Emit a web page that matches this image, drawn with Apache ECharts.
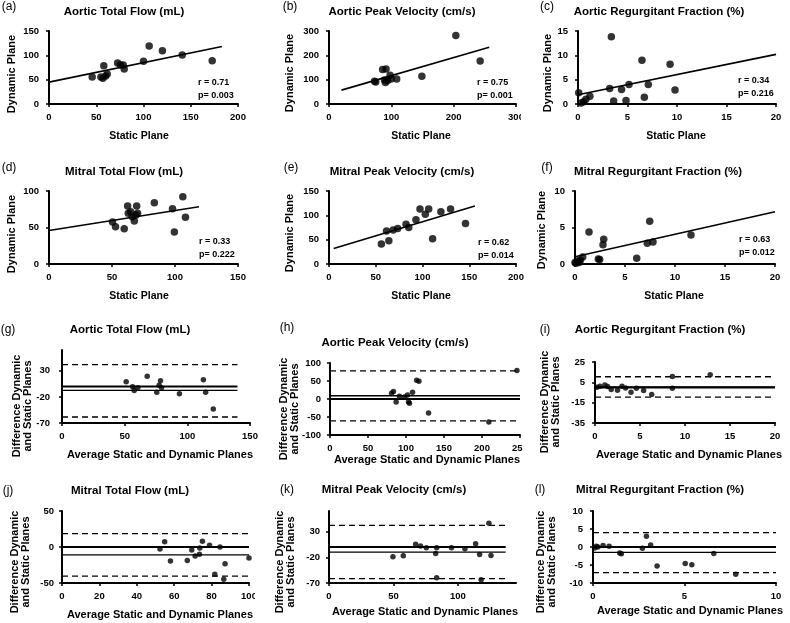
<!DOCTYPE html>
<html><head><meta charset="utf-8">
<script src="https://cdn.jsdelivr.net/npm/echarts@6/dist/echarts.min.js"></script>
<style>html,body{margin:0;padding:0;background:#fff}#c{width:790px;height:623px}</style>
</head><body><div id="c"></div>
<script>
// ---------- (a)-(f) Static vs Dynamic scatter data ----------
const aorticFlowStatic  = [45.7, 54.9, 58, 60, 61.6, 57, 72.6, 75.7, 78.6, 79.6, 100, 106, 120, 141, 172.7];
const aorticFlowDynamic = [55.5, 55.5, 78.8, 57.5, 61.6, 53, 84, 80, 80, 72, 87.7, 119, 109.6, 100.7, 89];
const aorticFlowTrend   = [[0, 45], [183, 118]];

const aorticVelStatic  = [73, 75, 86, 91.5, 89, 90.5, 94, 98, 99.6, 108.6, 149, 203.5, 242.5];
const aorticVelDynamic = [93, 90, 142, 144, 99, 88, 97, 118, 103, 103, 114, 282, 177];
const aorticVelTrend   = [[20, 57], [257, 233]];

const aorticRFStatic  = [0.07, 0.57, 0.8, 0.3, 1.2, 3.2, 3.37, 3.6, 4.4, 4.85, 5.15, 6.46, 6.7, 7.1, 9.3, 9.8];
const aorticRFDynamic = [2.3, 0.48, 0.96, 0.2, 1.6, 3.2, 13.8, 0.6, 3.0, 0.7, 4.0, 9.0, 1.4, 4.0, 8.15, 2.9];
const aorticRFTrend   = [[0, 1.9], [20, 10.2]];

const mitralFlowStatic  = [50.4, 52.8, 59.7, 62.4, 62.9, 64.8, 66.1, 67.7, 69, 69.6, 70.3, 83.6, 98, 99.5, 106.2, 108.3];
const mitralFlowDynamic = [57.5, 51.1, 48.4, 79.5, 69.4, 71.7, 64.8, 58.9, 67.1, 79.5, 69.4, 84, 75.8, 43.8, 92.2, 63.9];
const mitralFlowTrend   = [[0, 46], [119, 78.5]];

const mitralVelStatic  = [56, 61.5, 64, 68.6, 73.5, 82.4, 85.3, 93, 97.3, 103, 106.6, 110.8, 119.7, 130, 146];
const mitralVelDynamic = [41, 67.8, 48, 70, 73, 81.5, 75, 91, 113, 102, 113, 52, 107.5, 113, 83];
const mitralVelTrend   = [[5, 32], [156, 119]];

const mitralRFStatic  = [0, 0.1, 0.27, 0.4, 0.53, 0.77, 1.4, 2.33, 2.47, 2.87, 2.8, 6.17, 7.23, 7.47, 7.8, 11.6];
const mitralRFDynamic = [0.2, 0.1, 0.4, 0.2, 0.5, 0.96, 4.4, 0.7, 0.6, 3.4, 2.65, 0.8, 2.83, 5.85, 3.0, 3.97];
const mitralRFTrend   = [[0, 1.0], [20, 7.17]];

const corrR = ['r = 0.71', 'r = 0.75', 'r = 0.34', 'r = 0.33', 'r = 0.62', 'r = 0.63'];
const corrP = ['p= 0.003', 'p= 0.001', 'p= 0.216', 'p= 0.222', 'p= 0.014', 'p= 0.012'];

// ---------- (g)-(l) Bland-Altman data ----------
const baAorticFlowAvg  = [51.2, 56.3, 57.6, 60.5, 68, 75.6, 77.5, 78.6, 79.4, 93.7, 112.8, 114.6, 120.7];
const baAorticFlowDiff = [9, -0.3, -7.5, -2.2, 19.5, -10.8, 2.4, 11, -2.2, -14, 13, -10.8, -43];
const baAorticFlowStats = [-7.5, 42, -58.5, 140];   // mean, upper, lower, line end

const baAorticVelAvg  = [81, 83.5, 87, 91.4, 98, 102, 103.3, 104.6, 108.6, 114, 117, 129.7, 209, 246];
const baAorticVelDiff = [16, 21, -8, 7.4, 5.6, 11, -8.4, -12, 18.6, 52, 49, -39, -64, 79];
const baAorticVelStats = [9, 78, -61, 250];

const baAorticRFAvg  = [0.2, 0.55, 1.1, 1.4, 1.8, 2.5, 3, 3.4, 4, 4.6, 5.4, 6.3, 8.6, 8.6, 12.8];
const baAorticRFDiff = [0.2, 1.1, 2.4, 0.8, -2.1, -2.7, 1.1, -0.5, -4.7, -0.8, -3, -6.9, 10.8, -0.8, 12.4];
const baAorticRFStats = [0.5, 10.5, -9.5, 20];

const baMitralFlowAvg  = [52.4, 54.9, 58, 67, 69.4, 71.2, 73.5, 73.7, 75.1, 78.9, 81.7, 84.5, 86.5, 87.2, 100];
const baMitralFlowDiff = [-2.8, 7.4, -19.5, -18.6, -4.2, -12.6, -10.2, -1.4, 7.9, 2.3, -38, 0, -44.7, -23.3, -15.3];
const baMitralFlowStats = [-11, 18.5, -40.5, 100];

const baMitralVelAvg  = [49.6, 57.6, 67.2, 71, 75.5, 82.7, 83.5, 83.5, 95, 105.4, 113.7, 116.8, 118, 124, 125.6];
const baMitralVelDiff = [-19, -17, 5.2, 1.9, -1.4, -12.5, -1.4, -60, -1.4, -3.3, 6.5, -14.4, -63.5, 46.3, -16.4];
const baMitralVelStats = [-10, 42, -61.5, 137];

const baMitralRFAvg  = [0.09, 0.18, 0.27, 0.55, 0.88, 1.46, 1.55, 2.7, 2.92, 3.15, 3.5, 5.04, 5.4, 6.6, 7.8];
const baMitralRFDiff = [-0.3, 0.2, 0, 0.4, 0.2, -1.65, -1.9, -0.37, 3.0, 0.55, -5.3, -4.6, -4.9, -1.8, -7.6];
const baMitralRFStats = [-1.5, 4, -7.1, 10];

// ---------- text ----------
const panelLetters = ['(a)', '(b)', '(c)', '(d)', '(e)', '(f)', '(g)', '(h)', '(i)', '(j)', '(k)', '(l)'];
const panelTitles = ['Aortic Total Flow (mL)', 'Aortic Peak Velocity (cm/s)', 'Aortic Regurgitant Fraction (%)',
  'Mitral Total Flow (mL)', 'Mitral Peak Velocity (cm/s)', 'Mitral Regurgitant Fraction (%)',
  'Aortic Total Flow (mL)', 'Aortic Peak Velocity (cm/s)', 'Aortic Regurgitant Fraction (%)',
  'Mitral Total Flow (mL)', 'Mitral Peak Velocity (cm/s)', 'Mitral Regurgitant Fraction (%)'];
const xNameTop = 'Static Plane', yNameTop = 'Dynamic Plane';
const xNameBA = 'Average Static and Dynamic Planes', yNameBA = 'Difference Dynamic\nand Static Planes';

// axis ranges [xmin,xmax,xint, ymin,ymax,yint]
const axisRanges = [
  [0, 200, 50, 0, 150, 50], [0, 300, 100, 0, 300, 100], [0, 20, 5, 0, 15, 5],
  [0, 150, 50, 0, 100, 50], [0, 200, 50, 0, 150, 50], [0, 20, 5, 0, 10, 5],
  [0, 150, 50, -70, 70, 50], [0, 250, 50, -100, 100, 50], [0, 20, 5, -35, 25, 20],
  [0, 100, 20, -50, 50, 50], [0, 145, 50, -70, 70, 50], [0, 10, 5, -10, 10, 5]
];

// ---------- layout ----------
const grids = [
  [49, 31, 189, 73], [329, 31, 187, 73], [578, 31, 198, 73],
  [49, 191, 189, 73], [329, 191, 187, 73], [575, 191, 200, 73],
  [62, 350, 188, 73], [330, 363, 190, 72], [595, 362, 180, 61],
  [62, 511, 187, 72], [329, 511, 187, 72], [593, 511, 183, 72]
];
const letterPos = [[9, 7], [290, 7], [547, 7], [9, 168], [291, 168], [547, 168],
  [8, 330], [287, 328], [545, 330], [8, 491], [287, 490], [540, 490]];
const titlePos = [[124, 12], [402, 12], [659, 12], [124, 172], [402, 172], [658, 172],
  [130, 330], [395, 343], [660, 330], [130, 491], [394, 490], [660, 490]];
const xNamePos = [[139, 136], [421, 136], [676, 136], [139, 296], [421, 296], [674, 296],
  [160, 455], [427, 460], [689, 455], [160, 615], [425, 612], [690, 611]];
const yNamePos = [[12, 74], [290, 73], [548, 73], [12, 234], [290, 233], [542, 230],
  [22, 406], [289, 409], [550, 402], [20, 562], [285, 562], [546, 562]];
const corrPos = [[198, 83], [477, 83], [738, 81], [199, 242], [478, 243], [739, 240]];
const yLabelMargins = [10, 10, 10, 10, 10, 10, 12, 9, 10, 8, 9, 10];

const FONT = '"Liberation Sans", Arial, sans-serif';

const scatterSets = [
  [aorticFlowStatic, aorticFlowDynamic, aorticFlowTrend],
  [aorticVelStatic, aorticVelDynamic, aorticVelTrend],
  [aorticRFStatic, aorticRFDynamic, aorticRFTrend],
  [mitralFlowStatic, mitralFlowDynamic, mitralFlowTrend],
  [mitralVelStatic, mitralVelDynamic, mitralVelTrend],
  [mitralRFStatic, mitralRFDynamic, mitralRFTrend]
];
const baSets = [
  [baAorticFlowAvg, baAorticFlowDiff, baAorticFlowStats],
  [baAorticVelAvg, baAorticVelDiff, baAorticVelStats],
  [baAorticRFAvg, baAorticRFDiff, baAorticRFStats],
  [baMitralFlowAvg, baMitralFlowDiff, baMitralFlowStats],
  [baMitralVelAvg, baMitralVelDiff, baMitralVelStats],
  [baMitralRFAvg, baMitralRFDiff, baMitralRFStats]
];

function mkAxis(i, min, max, interval, isX) {
  const hideMax = (!isX && (i === 6 || i === 10)) || (isX && i === 10);
  return {
    gridIndex: i, type: 'value', min: min, max: max, interval: interval,
    splitLine: { show: false },
    axisLine: { show: true, onZero: false, lineStyle: { color: '#000', width: 2 } },
    axisTick: { show: true, length: 3, lineStyle: { color: '#000', width: 1.5 } },
    axisLabel: { color: '#000', fontSize: 9.5, fontWeight: 'bold', fontFamily: FONT,
      margin: isX ? 8 : yLabelMargins[i], showMaxLabel: hideMax ? false : true }
  };
}

const gridOpt = [], xAxes = [], yAxes = [], series = [], graphics = [];
grids.forEach((g, i) => {
  gridOpt.push({ left: g[0], top: g[1], width: g[2], height: g[3], containLabel: false, outerBoundsMode: 'none' });
  const r = axisRanges[i];
  xAxes.push(mkAxis(i, r[0], r[1], r[2], true));
  yAxes.push(mkAxis(i, r[3], r[4], r[5], false));
});

scatterSets.forEach((s, i) => {
  series.push({ type: 'scatter', xAxisIndex: i, yAxisIndex: i, symbolSize: 7.5,
    itemStyle: { color: '#000' }, data: s[0].map((x, k) => [x, s[1][k]]), z: 3 });
  series.push({ type: 'line', xAxisIndex: i, yAxisIndex: i, symbol: 'none', silent: true,
    lineStyle: { color: '#000', width: 1.6 }, data: s[2], z: 2 });
});
baSets.forEach((s, j) => {
  const i = j + 6;
  const st = s[2];
  series.push({ type: 'scatter', xAxisIndex: i, yAxisIndex: i, symbolSize: 5.5,
    itemStyle: { color: '#000' }, data: s[0].map((x, k) => [x, s[1][k]]), z: 3 });
  const hl = (y, w, dashed) => series.push({ type: 'line', xAxisIndex: i, yAxisIndex: i, symbol: 'none', silent: true,
    lineStyle: { color: '#000', width: w, type: dashed ? [6, 4] : 'solid' }, data: [[0, y], [st[3], y]], z: 2 });
  hl(0, 2, false);
  hl(st[0], 1.3, false);
  hl(st[1], 1.3, true);
  hl(st[2], 1.3, true);
});

function txt(x, y, text, font, align, rot, extra) {
  return Object.assign({ type: 'text', x: x, y: y, rotation: rot || 0, z: 50,
    style: { text: text, font: font, fill: '#000', align: align || 'center', verticalAlign: 'middle',
      textAlign: align || 'center', textVerticalAlign: 'middle', lineHeight: 11 } }, extra || {});
}
panelLetters.forEach((t, i) => graphics.push(txt(letterPos[i][0], letterPos[i][1], t, '12px ' + FONT)));
panelTitles.forEach((t, i) => graphics.push(txt(titlePos[i][0], titlePos[i][1], t, 'bold 11.5px ' + FONT)));
xNamePos.forEach((p, i) => graphics.push(txt(p[0], p[1], i < 6 ? xNameTop : xNameBA, (i < 6 ? 'bold 10.5px ' : 'bold 11px ') + FONT)));
yNamePos.forEach((p, i) => graphics.push(txt(p[0], p[1], i < 6 ? yNameTop : yNameBA, 'bold 11px ' + FONT, 'center', Math.PI / 2)));
corrPos.forEach((p, i) => {
  graphics.push(txt(p[0], p[1], corrR[i], 'bold 9px ' + FONT, 'left'));
  graphics.push(txt(p[0], p[1] + 12.5, corrP[i], 'bold 9px ' + FONT, 'left'));
});
// cropped panel edges (the source panels were cut at their right edge)
[[521, 112, 6, 13], [522.5, 440, 7, 13], [255, 590, 8, 13]].forEach(r =>
  graphics.push({ type: 'rect', shape: { x: r[0], y: r[1], width: r[2], height: r[3] }, style: { fill: '#fff' }, z: 100 }));

const chart = echarts.init(document.getElementById('c'), null, { renderer: 'canvas' });
chart.setOption({
  backgroundColor: '#fff',
  animation: false,
  grid: gridOpt, xAxis: xAxes, yAxis: yAxes, series: series,
  graphic: { elements: graphics }
});
</script></body></html>
